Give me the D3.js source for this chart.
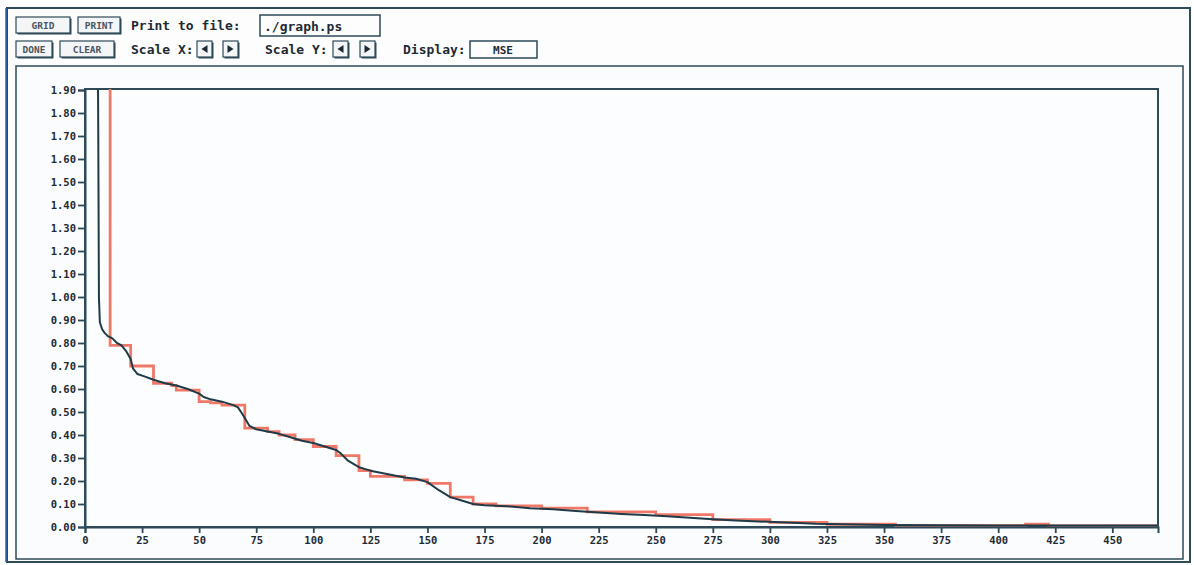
<!DOCTYPE html>
<html>
<head>
<meta charset="utf-8">
<script src="https://cdn.jsdelivr.net/npm/d3@7"></script>
<style>
  body { margin: 0; background: #ffffff; }
  text { font-family: "DejaVu Sans Mono", monospace; font-weight: bold; }
</style>
</head>
<body>
<script>
'use strict';

// black curve: MSE of the actual run
const mseX = [5.6, 5.8, 6.1, 6.5, 7.5, 8.5, 10, 12, 14, 16, 18, 20, 21, 23, 26, 30, 35, 40, 45, 50, 52, 55, 60, 65, 67, 69, 72, 75, 80, 85, 90, 95, 100, 105, 110, 112, 115, 120, 125, 130, 135, 140, 145, 150, 155, 160, 165, 170, 175, 185, 195, 205, 215, 225, 235, 245, 255, 265, 275, 285, 295, 310, 320, 350, 400, 470];
const mseY = [2.10, 1.73, 1.00, 0.89, 0.86, 0.845, 0.83, 0.82, 0.80, 0.79, 0.765, 0.73, 0.69, 0.665, 0.655, 0.64, 0.625, 0.615, 0.60, 0.58, 0.565, 0.555, 0.545, 0.53, 0.52, 0.49, 0.44, 0.425, 0.415, 0.405, 0.39, 0.375, 0.365, 0.35, 0.335, 0.32, 0.29, 0.26, 0.245, 0.235, 0.225, 0.215, 0.21, 0.195, 0.16, 0.13, 0.115, 0.10, 0.095, 0.09, 0.082, 0.077, 0.07, 0.063, 0.057, 0.052, 0.047, 0.04, 0.034, 0.028, 0.024, 0.018, 0.014, 0.009, 0.007, 0.006];

// red curve: stepped estimate
const estX = [11, 11, 20, 30, 38, 40, 50, 55, 60, 70, 80, 85, 92, 100, 110, 120, 125, 140, 150, 160, 170, 180, 200, 220, 250, 275, 300, 325, 355, 412, 422, 470];
const estY = [2.10, 0.79, 0.70, 0.625, 0.615, 0.595, 0.545, 0.54, 0.53, 0.43, 0.415, 0.40, 0.38, 0.35, 0.31, 0.245, 0.22, 0.205, 0.19, 0.13, 0.10, 0.092, 0.082, 0.066, 0.054, 0.032, 0.02, 0.012, 0.006, 0.012, 0.005, 0.005];

// axis ticks
const xTicks = [0, 25, 50, 75, 100, 125, 150, 175, 200, 225, 250, 275, 300, 325, 350, 375, 400, 425, 450];
const yTicks = [0.00, 0.10, 0.20, 0.30, 0.40, 0.50, 0.60, 0.70, 0.80, 0.90, 1.00, 1.10, 1.20, 1.30, 1.40, 1.50, 1.60, 1.70, 1.80, 1.90];

(function() {

  const frameColor = "#2e4a58";
  const inkColor = "#1d2a33";

  let svg = "";

  window.onload = function() {
    svg = d3.select('body')
      .append('svg')
      .attr('width', 1194)
      .attr('height', 565);

    drawWindow();
    drawControls();
    drawGraph();
  };

  // outer window and panel borders
  function drawWindow() {
    svg.append('rect')
      .attr('x', 0).attr('y', 0)
      .attr('width', 1194).attr('height', 565)
      .attr('fill', '#ffffff');

    svg.append('rect')
      .attr('x', 7).attr('y', 8)
      .attr('width', 1183).attr('height', 554)
      .attr('fill', '#fdfdfe')
      .attr('stroke', frameColor)
      .attr('stroke-width', 2);

    // thin blue edge on the left
    svg.append('line')
      .attr('x1', 6).attr('x2', 6)
      .attr('y1', 8).attr('y2', 562)
      .attr('stroke', '#3060c0')
      .attr('stroke-width', 1.5);

    svg.append('rect')
      .attr('x', 16).attr('y', 66)
      .attr('width', 1167).attr('height', 493)
      .attr('fill', '#fbfcfd')
      .attr('stroke', frameColor)
      .attr('stroke-width', 1.5);
  }

  // a beveled push button
  function button(x, y, w, h, label) {
    let g = svg.append('g');
    g.append('rect')
      .attr('x', x + 1.5).attr('y', y + 1.5)
      .attr('width', w).attr('height', h)
      .attr('fill', frameColor);
    g.append('rect')
      .attr('x', x).attr('y', y)
      .attr('width', w).attr('height', h)
      .attr('fill', '#f4f5f6')
      .attr('stroke', frameColor)
      .attr('stroke-width', 1.2);
    if (label) {
      g.append('text')
        .attr('x', x + w / 2)
        .attr('y', y + h / 2 + 3.5)
        .attr('text-anchor', 'middle')
        .style('font-size', '9.5px')
        .attr('fill', '#4a5560')
        .text(label);
    }
    return g;
  }

  // small button with a triangle arrow
  function arrowButton(x, y, dir) {
    let g = button(x, y, 15, 16, "");
    let cx = x + 7.5, cy = y + 8;
    let pts = dir < 0
      ? [[cx + 3, cy - 4], [cx + 3, cy + 4], [cx - 3, cy]]
      : [[cx - 3, cy - 4], [cx - 3, cy + 4], [cx + 3, cy]];
    g.append('path')
      .attr('d', 'M' + pts.join('L') + 'Z')
      .attr('fill', inkColor);
  }

  // text field box
  function field(x, y, w, h) {
    svg.append('rect')
      .attr('x', x).attr('y', y)
      .attr('width', w).attr('height', h)
      .attr('fill', '#fdfdfe')
      .attr('stroke', frameColor)
      .attr('stroke-width', 1.5);
  }

  function label(x, y, t) {
    svg.append('text')
      .attr('x', x).attr('y', y)
      .style('font-size', '13px')
      .attr('fill', inkColor)
      .text(t);
  }

  // the two rows of controls above the graph
  function drawControls() {
    button(16, 17, 54, 16, 'GRID');
    button(78, 17, 42, 16, 'PRINT');
    label(131, 30, 'Print to file:');
    field(260, 15, 120, 21);
    label(264, 31, './graph.ps');

    button(16, 41, 36, 16, 'DONE');
    button(60, 41, 54, 16, 'CLEAR');
    label(131, 54, 'Scale X:');
    arrowButton(197, 41, -1);
    arrowButton(223, 41, 1);
    label(265, 54, 'Scale Y:');
    arrowButton(333, 41, -1);
    arrowButton(360, 41, 1);
    label(403, 54, 'Display:');
    field(470, 41, 67, 17);
    svg.append('text')
      .attr('x', 503).attr('y', 54)
      .attr('text-anchor', 'middle')
      .style('font-size', '11px')
      .attr('fill', inkColor)
      .text('MSE');
  }

  // plot the axes and both curves
  function drawGraph() {
    let xScale = d3.scaleLinear()
      .domain([0, 470])
      .range([85, 1158]);

    let yScale = d3.scaleLinear()
      .domain([0, 1.9])
      .range([527, 90]);

    // frame of the plot
    svg.append('rect')
      .attr('x', 85).attr('y', 89)
      .attr('width', 1073).attr('height', 438)
      .attr('fill', '#fcfdfe')
      .attr('stroke', frameColor)
      .attr('stroke-width', 2);

    svg.append('clipPath')
      .attr('id', 'plotClip')
      .append('rect')
      .attr('x', 85).attr('y', 89)
      .attr('width', 1073).attr('height', 438);

    let line = d3.line()
      .x((d) => xScale(d[0]))
      .y((d) => yScale(d[1]));

    let estData = d3.zip(estX, estY);
    let mseData = d3.zip(mseX, mseY);

    svg.append('path')
      .datum(estData)
      .attr('clip-path', 'url(#plotClip)')
      .attr('fill', 'none')
      .attr('stroke', '#f07868')
      .attr('stroke-width', 2.8)
      .attr('d', line.curve(d3.curveStepAfter));

    svg.append('path')
      .datum(mseData)
      .attr('clip-path', 'url(#plotClip)')
      .attr('fill', 'none')
      .attr('stroke', '#1f3b48')
      .attr('stroke-width', 2)
      .attr('stroke-linejoin', 'round')
      .attr('d', line.curve(d3.curveLinear));

    // axes
    let xAxis = d3.axisBottom(xScale)
      .tickValues(xTicks)
      .tickSize(6)
      .tickPadding(4)
      .tickFormat(d3.format('d'));

    let yAxis = d3.axisLeft(yScale)
      .tickValues(yTicks)
      .tickSize(7)
      .tickPadding(2)
      .tickFormat(d3.format('.2f'));

    let gx = svg.append('g')
      .attr('transform', 'translate(0, 527)')
      .call(xAxis);

    let gy = svg.append('g')
      .attr('transform', 'translate(85, 0)')
      .call(yAxis);

    [gx, gy].forEach((g) => {
      g.select('.domain')
        .attr('stroke', frameColor)
        .attr('stroke-width', 2);
      g.selectAll('.tick line')
        .attr('stroke', frameColor)
        .attr('stroke-width', 1.8);
      g.selectAll('.tick text')
        .attr('fill', inkColor)
        .style('font-family', '"DejaVu Sans Mono", monospace')
        .style('font-weight', 'bold')
        .style('font-size', '10.5px');
    });
  }

})();
</script>
</body>
</html>
